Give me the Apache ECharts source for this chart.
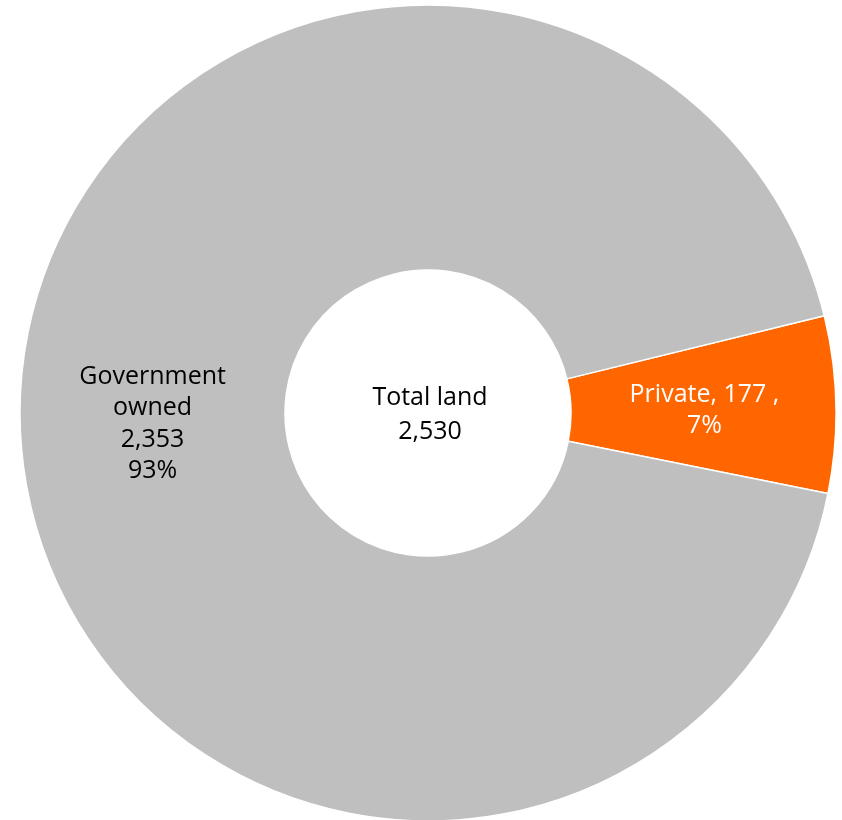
<!DOCTYPE html>
<html>
<head>
<meta charset="utf-8">
<script src="https://cdn.jsdelivr.net/npm/echarts@6/dist/echarts.min.js"></script>
<style>
  html, body { margin: 0; padding: 0; background: #ffffff; }
  #chart { width: 842px; height: 820px; }
</style>
</head>
<body>
<div id="chart"></div>
<script>
// Land ownership breakdown
const categories = ['Private', 'Government owned'];
const landValues = [177, 2353];
const sliceColors = ['#FF6600', '#BFBFBF'];
const labelColors = ['#ffffff', '#000000'];
const labelNudges = [[-2, 3], [3, 5]];
const centerTitle = 'Total land';

const total = landValues.reduce((a, b) => a + b, 0);
const fmt = n => n.toLocaleString('en-US');
const FONT = '"Open Sans", sans-serif';

const chart = echarts.init(document.getElementById('chart'));

chart.setOption({
  animation: false,
  graphic: [{
    type: 'text',
    x: 430,
    y: 415,
    z: 10,
    style: {
      text: centerTitle + '\n' + fmt(total),
      fill: '#000000',
      fontFamily: FONT,
      fontSize: 25,
      lineHeight: 34,
      align: 'center',
      verticalAlign: 'middle'
    }
  }],
  series: [{
    type: 'pie',
    center: [428, 413],
    radius: [143, 408],
    startAngle: 13.8,
    clockwise: true,
    avoidLabelOverlap: false,
    itemStyle: { borderColor: '#ffffff', borderWidth: 1.5 },
    label: {
      position: 'inside',
      fontFamily: FONT,
      fontSize: 25,
      lineHeight: 31.5,
      align: 'center'
    },
    labelLine: { show: false },
    emphasis: { disabled: true },
    data: categories.map((name, i) => {
      const pct = Math.round(landValues[i] / total * 100) + '%';
      const text = i === 0
        ? name + ', ' + fmt(landValues[i]) + ' ,\n' + pct
        : name.replace(' ', '\n') + '\n' + fmt(landValues[i]) + '\n' + pct;
      return {
        name: name,
        value: landValues[i],
        itemStyle: { color: sliceColors[i] },
        label: { color: labelColors[i], formatter: text, offset: labelNudges[i] }
      };
    })
  }]
});
</script>
</body>
</html>
